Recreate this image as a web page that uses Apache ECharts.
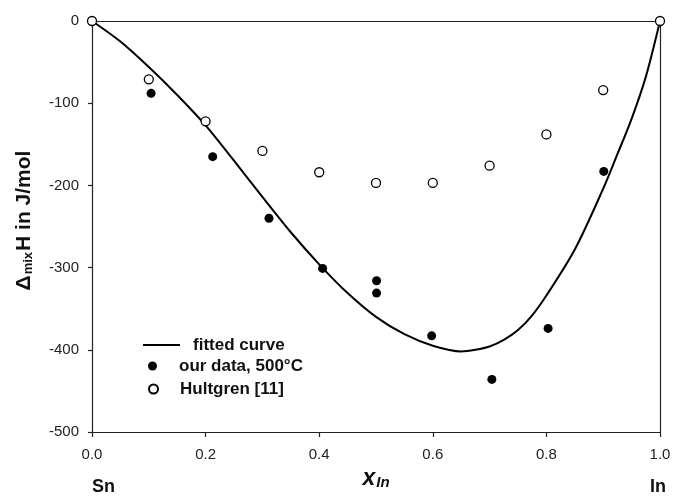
<!DOCTYPE html>
<html>
<head>
<meta charset="utf-8">
<script src="https://cdn.jsdelivr.net/npm/echarts@6/dist/echarts.min.js"></script>
<style>
html,body{margin:0;padding:0;background:#fff;}
#chart{width:675px;height:496px;}
</style>
</head>
<body>
<div id="chart"></div>
<script>
// Fitted curve
var curveX = [0, 0.05, 0.1, 0.15, 0.2, 0.25, 0.3, 0.35, 0.4, 0.45, 0.5, 0.55, 0.6, 0.65, 0.675, 0.7, 0.725, 0.75, 0.775, 0.8, 0.85, 0.9, 0.925, 0.95, 0.975, 1.0];
var curveY = [0, -25, -56, -90, -127, -170, -214, -257, -296, -331, -360, -381, -395, -402, -400, -396, -388, -376, -358, -334, -278, -204, -162, -119, -68, 0];
// our data, 500°C
var ourX = [0.104, 0.2125, 0.3116, 0.406, 0.501, 0.501, 0.598, 0.704, 0.803, 0.901];
var ourY = [-88, -165, -240, -301, -316, -331, -383, -436, -374, -183];
// Hultgren [11]
var hulX = [0, 0.1, 0.2, 0.3, 0.4, 0.5, 0.6, 0.7, 0.8, 0.9, 1.0];
var hulY = [0, -71, -122, -158, -184, -197, -197, -176, -138, -84, 0];

function pairs(xs, ys){ return xs.map(function(x,i){ return [x, ys[i]]; }); }

var FONT = 'Liberation Sans, Arial, sans-serif';
var AX = '#222';
var legendText = { fontFamily: FONT, fontSize: 17, fontWeight: 'bold', color: '#111', lineHeight: 18 };

var chart = echarts.init(document.getElementById('chart'), null, {renderer:'canvas'});
chart.setOption({
  animation: false,
  backgroundColor: '#fff',
  textStyle: { fontFamily: FONT },
  grid: { left: 92, right: 15, top: 21, bottom: 64, show: false },
  legend: [
    { data: [{ name: 'fitted curve', icon: 'rect' }], left: 138, top: 331, itemWidth: 37, itemHeight: 2,
      textStyle: Object.assign({}, legendText, { padding: [0,0,0,8] }) },
    { data: ['our data, 500°C'], left: 143, top: 352, itemWidth: 9, itemHeight: 9,
      textStyle: Object.assign({}, legendText, { padding: [0,0,0,17] }) },
    { data: ['Hultgren [11]'], left: 143, top: 375, itemWidth: 9, itemHeight: 9,
      textStyle: Object.assign({}, legendText, { padding: [0,0,0,17] }) }
  ],
  xAxis: [{
    type: 'value', min: 0, max: 1, interval: 0.2, position: 'bottom',
    name: '{x|x}{s|In}', nameLocation: 'middle', nameGap: 30,
    nameTextStyle: { rich: {
      x: { fontFamily: FONT, fontSize: 23, fontStyle: 'italic', fontWeight: 'bold', color: '#111', lineHeight: 24, verticalAlign: 'bottom' },
      s: { fontFamily: FONT, fontSize: 15, fontStyle: 'italic', fontWeight: 'bold', color: '#111', lineHeight: 15, verticalAlign: 'bottom', padding: [6,0,0,1] }
    } },
    axisLine: { show: true, onZero: false, lineStyle: { color: AX, width: 1.2 } },
    axisTick: { show: true, inside: false, length: 5, lineStyle: { color: AX, width: 1.2 } },
    minorTick: { show: false },
    axisLabel: { margin: 15, fontSize: 15, color: '#222', fontFamily: FONT, formatter: function(v){ return v.toFixed(1); } },
    splitLine: { show: false }
  }, {
    type: 'value', min: 0, max: 1, position: 'top',
    axisLine: { show: true, onZero: false, lineStyle: { color: AX, width: 1.2 } },
    axisTick: { show: false }, axisLabel: { show: false }, splitLine: { show: false }
  }],
  yAxis: [{
    type: 'value', min: -500, max: 0, interval: 100, position: 'left',
    name: '{a|Δ}{s|mix}{a|H in J/mol}', nameLocation: 'middle', nameGap: 57,
    nameTextStyle: { padding: [0,0,0,12], rich: {
      a: { fontFamily: FONT, fontSize: 21, fontWeight: 'bold', color: '#111', lineHeight: 22, verticalAlign: 'bottom' },
      s: { fontFamily: FONT, fontSize: 13, fontWeight: 'bold', color: '#111', lineHeight: 13, verticalAlign: 'bottom', padding: [0,1,0,1] }
    } },
    axisLine: { show: true, onZero: false, lineStyle: { color: AX, width: 1.2 } },
    axisTick: { show: true, inside: false, length: 4, lineStyle: { color: AX, width: 1.2 } },
    minorTick: { show: false },
    axisLabel: { margin: 13, fontSize: 15, color: '#222', fontFamily: FONT },
    splitLine: { show: false }
  }, {
    type: 'value', min: -500, max: 0, position: 'right',
    axisLine: { show: true, onZero: false, lineStyle: { color: AX, width: 1.2 } },
    axisTick: { show: false }, axisLabel: { show: false }, splitLine: { show: false }
  }],
  series: [
    { name: 'fitted curve', type: 'line', data: pairs(curveX, curveY), smooth: 0.3,
      symbol: 'none', showSymbol: false, clip: false,
      lineStyle: { color: '#000', width: 2 }, itemStyle: { color: '#000' }, z: 2 },
    { name: 'our data, 500°C', type: 'scatter', data: pairs(ourX, ourY), symbol: 'circle', symbolSize: 9,
      clip: false, itemStyle: { color: '#000', opacity: 1 }, z: 3 },
    { name: 'Hultgren [11]', type: 'scatter', data: pairs(hulX, hulY), symbol: 'circle', symbolSize: 9,
      clip: false, itemStyle: { color: '#fff', borderColor: '#000', borderWidth: 1.3, opacity: 1 }, z: 4 }
  ],
  graphic: [
    { type: 'text', left: 92, top: 478, style: { text: 'Sn', font: 'bold 18px ' + FONT, fill: '#111' } },
    { type: 'text', left: 650, top: 478, style: { text: 'In', font: 'bold 18px ' + FONT, fill: '#111' } }
  ]
});
</script>
</body>
</html>
